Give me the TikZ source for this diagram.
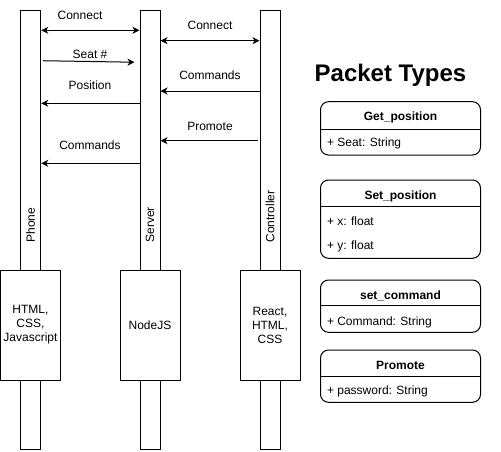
\documentclass[tikz,border=0pt]{standalone}
\usepackage{fontspec}
\setmainfont{Liberation Sans}
\usetikzlibrary{arrows.meta}
\begin{document}
\begin{tikzpicture}[x=1pt,y=-1pt,line width=1pt,
  every node/.style={font=\fontsize{12}{14}\selectfont, inner sep=0pt},
  bar/.style={draw, fill=white, minimum width=20pt, minimum height=439pt},
  tech/.style={draw, fill=white, minimum width=60pt, minimum height=110pt, align=center},
  lbl/.style={anchor=base},
  vlbl/.style={rotate=90, anchor=west},
  tip/.style={Stealth[length=7pt,width=7pt,inset=2pt]},
  msg/.style={-{Stealth[length=7pt,width=7pt,inset=2pt]}},
  dbl/.style={{Stealth[length=7pt,width=7pt,inset=2pt]}-{Stealth[length=7pt,width=7pt,inset=2pt]}},
  pkt/.style={draw, rounded corners=8pt, minimum width=160pt},
  hdr/.style={anchor=base, font=\fontsize{12}{14}\selectfont\bfseries},
  attr/.style={anchor=base west},
]
\useasboundingbox (0,0) rectangle (501,451);
% lifelines
\node[bar] (phone) at (30.7,229.5) {};
\node[bar] (srv) at (150,229.5) {};
\node[bar] (ctl) at (270,229.5) {};
\node[vlbl] (phoneLbl) at (30.5,243) {Phone};
\node[vlbl] (srvLbl) at (150,243) {Server};
\node[vlbl] (ctlLbl) at (270,243) {Controller};
% technology boxes
\node[tech] (phoneTech) at (30.5,325) {HTML,\\CSS,\\Javascript};
\node[tech] (srvTech) at (150,325) {NodeJS};
\node[tech] (ctlTech) at (270,325) {React,\\HTML,\\CSS};
% messages
\draw[dbl] (phone.east |- 0,30.3) -- (srv.west |- 0,30.3);
\node[lbl] (l1) at (80,19.3) {Connect};
\draw[dbl] (srv.east |- 0,40.7) -- (ctl.west |- 0,40.7);
\node[lbl] (l2) at (210,29.3) {Connect};
\draw[msg, shorten <=2pt, shorten >=5pt] (phone.east |- 0,60.7) -- (srv.west |- 0,62.3);
\node[lbl] (l3) at (90,58.6) {Seat \#};
\draw[msg] (ctl.west |- 0,91) -- (srv.east |- 0,91);
\node[lbl] (l4) at (210,79.3) {Commands};
\draw[msg] (srv.west |- 0,103.3) -- (phone.east |- 0,103.3);
\node[lbl] (l5) at (90,89.3) {Position};
\draw[msg, shorten <=2pt] (ctl.west |- 0,140.7) -- (srv.east |- 0,140.7);
\node[lbl] (l6) at (210,130) {Promote};
\draw[msg] (srv.west |- 0,163.3) -- (phone.east |- 0,163.3);
\node[lbl] (l7) at (90,149.3) {Commands};
% packet types
\node[anchor=base, font=\fontsize{24}{28}\selectfont\bfseries] (title) at (390.5,81.7) {Packet Types};
\node[pkt, minimum height=53.3pt] (gp) at (400.5,128.35) {};
\draw (gp.west |- 0,129) -- (gp.east |- 0,129);
\node[hdr] (gpH) at (400.5,120) {Get\_position};
\node[attr] (gpA) at (326.5,146) {+ Seat: String};
\node[pkt, minimum height=78.3pt] (sp) at (400.5,219.15) {};
\draw (sp.west |- 0,206) -- (sp.east |- 0,206);
\node[hdr] (spH) at (400.5,199) {Set\_position};
\node[attr] (spA) at (326.5,225) {+ x: float};
\node[attr] (spB) at (326.5,249.5) {+ y: float};
\node[pkt, minimum height=52.3pt] (sc) at (400.5,306.15) {};
\draw (sc.west |- 0,305.7) -- (sc.east |- 0,305.7);
\node[hdr] (scH) at (400.5,299) {set\_command};
\node[attr] (scA) at (326.5,325) {+ Command: String};
\node[pkt, minimum height=52.3pt] (pr) at (400.5,376.15) {};
\draw (pr.west |- 0,376) -- (pr.east |- 0,376);
\node[hdr] (prH) at (400.5,369) {Promote};
\node[attr] (prA) at (326.5,394) {+ password: String};
\end{tikzpicture}
\end{document}
